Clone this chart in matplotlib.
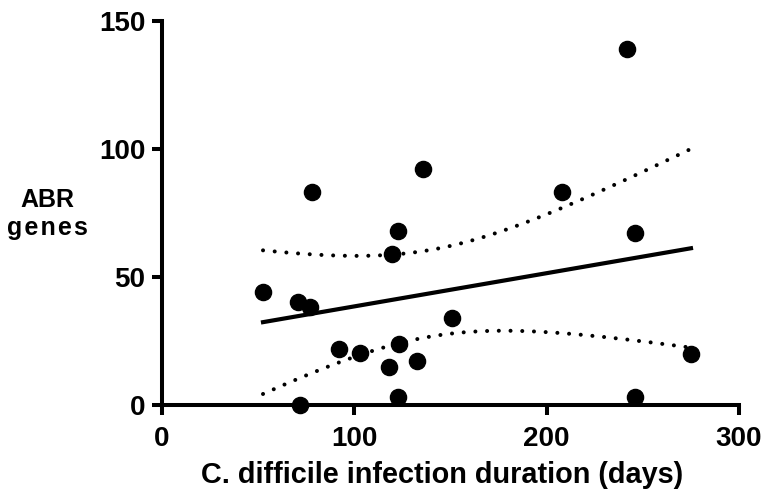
import numpy as np
import matplotlib.pyplot as plt

# infection duration (days) vs number of ABR genes
duration = [52.5, 70.7, 71.8, 77, 78, 92, 103, 118, 119.6, 122.7,
            123.2, 122.7, 132.6, 135.7, 150.8, 208, 241.8, 246, 246, 275]
abr_genes = [44.1, 40.2, 0, 38.3, 83.2, 21.9, 20.3, 14.8, 59, 68,
             23.8, 3.1, 17.2, 92.2, 34, 83.2, 139, 67.2, 3.1, 20]

x_ticks = [0, 100, 200, 300]
y_ticks = [0, 50, 100, 150]

plt.rcParams['font.family'] = ['Liberation Sans', 'DejaVu Sans']
plt.rcParams['font.weight'] = 'bold'

x = np.array(duration)
y = np.array(abr_genes)
n = len(x)

# linear fit with 95% confidence band
slope, intercept = np.polyfit(x, y, 1)
xs = np.linspace(x.min(), x.max(), 200)
fit = intercept + slope * xs
resid = y - (intercept + slope * x)
s = np.sqrt(np.sum(resid ** 2) / (n - 2))
sxx = np.sum((x - x.mean()) ** 2)
t_crit = 2.101  # t(0.975, df=18)
half = t_crit * s * np.sqrt(1 / n + (xs - x.mean()) ** 2 / sxx)

fig = plt.figure(figsize=(7.65, 4.95), dpi=100)
ax = fig.add_axes([0.2118, 0.1818, 0.7543, 0.7758])

ax.scatter(x, y, s=135, color='black', zorder=3, clip_on=False)
ax.plot(xs, fit, color='black', lw=3)
for band in (fit + half, fit - half):
    ax.plot(xs, band, color='black', lw=2.9, dashes=[0.01, 2.9],
            dash_capstyle='round')

ax.set_xlim(0, 300)
ax.set_ylim(0, 150)
ax.set_xticks(x_ticks)
ax.set_yticks(y_ticks)
for side in ('top', 'right'):
    ax.spines[side].set_visible(False)
for side in ('left', 'bottom'):
    ax.spines[side].set_linewidth(2.9)
ax.tick_params(width=2.9, length=7, labelsize=20)
ax.tick_params(axis='x', pad=8)
ax.tick_params(axis='y', pad=5)

ax.set_xlabel('C. difficile infection duration (days)', fontsize=20.75,
              fontweight='bold', va='top')
ax.xaxis.set_label_coords(0.485, -0.145)
fig.text(0.062, 0.568, 'ABR\ng\u200ae\u200an\u200ae\u200as', fontsize=18,
         fontweight='bold', ha='center', va='center', linespacing=1.2)

plt.savefig('out.png', dpi=100)
